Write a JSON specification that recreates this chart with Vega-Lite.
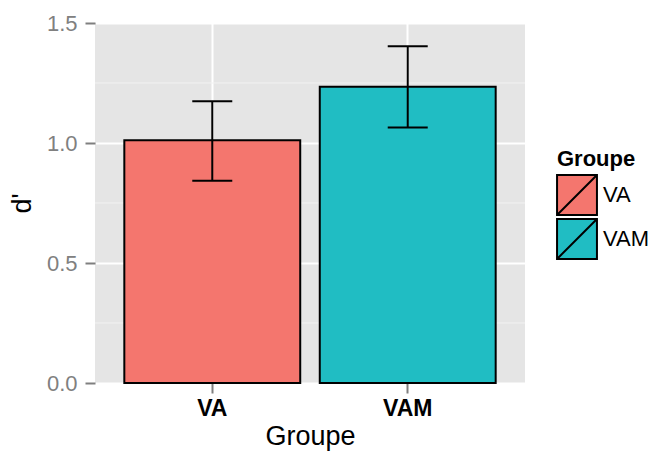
{
  "$schema": "https://vega.github.io/schema/vega-lite/v6.json",
  "autosize": {"type": "none"},
  "width": 430,
  "height": 360,
  "padding": {"left": 95, "top": 23, "right": 128, "bottom": 71},
  "config": {
    "font": "Liberation Sans",
    "view": {"fill": "#E5E5E5", "stroke": null},
    "axis": {"domain": false, "gridColor": "#FFFFFF", "gridWidth": 2, "tickColor": "#7F7F7F", "tickWidth": 2, "tickSize": 10}
  },
  "datasets": {
    "main": [
      {"Groupe": "VA", "d": 1.011, "lower": 0.843, "upper": 1.174},
      {"Groupe": "VAM", "d": 1.234, "lower": 1.065, "upper": 1.403}
    ],
    "minor": [{"m": 0.25}, {"m": 0.75}, {"m": 1.25}]
  },
  "layer": [
    {
      "data": {"name": "minor"},
      "mark": {"type": "rule", "stroke": "#F2F2F2", "strokeWidth": 1},
      "encoding": {"y": {"field": "m", "type": "quantitative", "scale": {"domain": [0, 1.5]}}}
    },
    {
      "data": {"name": "main"},
      "mark": {"type": "bar", "stroke": "#000000", "strokeWidth": 2},
      "encoding": {
        "x": {
          "field": "Groupe", "type": "nominal",
          "scale": {"paddingInner": 0.1, "paddingOuter": 0.15},
          "axis": {"labelAngle": 0, "labelFontSize": 23, "labelFontWeight": "bold", "labelColor": "#000000", "labelPadding": 4, "titleFontSize": 27, "titleFontWeight": "normal", "titleColor": "#000000", "titlePadding": 3, "grid": true}
        },
        "y": {
          "field": "d", "type": "quantitative", "title": "d'",
          "scale": {"domain": [0, 1.5], "nice": false, "zero": true},
          "axis": {"values": [0, 0.5, 1, 1.5], "format": ".1f", "labelFontSize": 22, "labelColor": "#808080", "labelPadding": 8, "titleFontSize": 27, "titleFontWeight": "normal", "titleColor": "#000000", "titlePadding": 10, "grid": true}
        },
        "fill": {
          "field": "Groupe", "type": "nominal",
          "scale": {"range": ["#F4766E", "#20BDC3"]},
          "legend": {
            "orient": "none", "legendX": 462, "legendY": 126,
            "title": "Groupe", "titleFontSize": 22, "titleFontWeight": "bold", "titleColor": "#000000", "titlePadding": 4,
            "symbolType": "M-1.05,-1.05H1.05V1.05H-1.05Z M-1.05,1.05L1.05,-1.05",
            "symbolSize": 1444, "symbolStrokeColor": "#000000", "symbolStrokeWidth": 2, "symbolOpacity": 1,
            "labelFontSize": 22, "labelColor": "#000000", "labelOffset": 6, "rowPadding": -8
          }
        }
      }
    },
    {
      "data": {"name": "main"},
      "mark": {"type": "rule", "stroke": "#000000", "strokeWidth": 2},
      "encoding": {
        "x": {"field": "Groupe", "type": "nominal"},
        "y": {"field": "lower", "type": "quantitative"},
        "y2": {"field": "upper"}
      }
    },
    {
      "data": {"name": "main"},
      "mark": {"type": "tick", "color": "#000000", "size": 40, "thickness": 2, "opacity": 1},
      "encoding": {
        "x": {"field": "Groupe", "type": "nominal"},
        "y": {"field": "upper", "type": "quantitative"}
      }
    },
    {
      "data": {"name": "main"},
      "mark": {"type": "tick", "color": "#000000", "size": 40, "thickness": 2, "opacity": 1},
      "encoding": {
        "x": {"field": "Groupe", "type": "nominal"},
        "y": {"field": "lower", "type": "quantitative"}
      }
    }
  ]
}
